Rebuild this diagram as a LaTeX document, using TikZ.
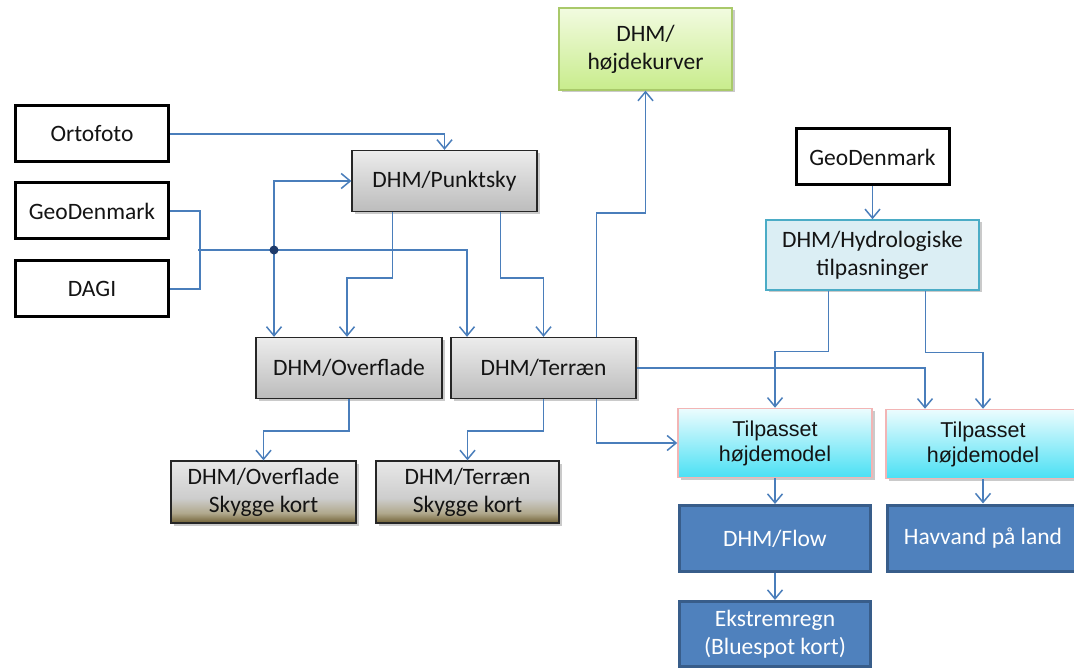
\documentclass[tikz,border=0pt]{standalone}
\usepackage{fontspec}
\setmainfont{Carlito}
\newfontfamily\arialfont{Liberation Sans}
\usetikzlibrary{arrows.meta,shadows,calc}

\definecolor{conncol}{HTML}{4A7EBB}
\definecolor{dotcol}{HTML}{1F3B6B}
\definecolor{bluefill}{HTML}{4F81BD}
\definecolor{blueedge}{HTML}{385D8A}
\definecolor{greenedge}{HTML}{A9C96A}
\definecolor{hydrofill}{HTML}{DBEEF4}
\definecolor{hydroedge}{HTML}{4BACC6}
\definecolor{pinkedge}{HTML}{F2B5B5}
\definecolor{grayedge}{HTML}{262626}
\definecolor{textcol}{HTML}{141414}

% light grey fading into an olive band at the bottom
\pgfdeclareverticalshading{skyggeshade}{100bp}{%
  color(0bp)=(rgb,255:red,112;green,96;blue,52);
  color(25bp)=(rgb,255:red,112;green,96;blue,52);
  color(33bp)=(rgb,255:red,176;green,168;blue,140);
  color(45bp)=(rgb,255:red,205;green,205;blue,205);
  color(75bp)=(rgb,255:red,232;green,232;blue,232);
  color(100bp)=(rgb,255:red,232;green,232;blue,232)}

\tikzset{
  base/.style={align=center, inner sep=0pt, text=textcol,
    font=\fontsize{23.5}{28}\selectfont},
  srcbox/.style={base, draw=black, line width=3pt, fill=white,
    minimum width=153pt, minimum height=56pt},
  shadowed/.style={drop shadow={shadow xshift=2.5pt, shadow yshift=-2.5pt, opacity=0.35, fill=black!60}},
  graybox/.style={base, draw=grayedge, line width=1.3pt, shadowed,
    top color={rgb,255:red,236;green,236;blue,236},
    bottom color={rgb,255:red,188;green,188;blue,188},
    minimum width=185pt, minimum height=61pt},
  skyggebox/.style={base, draw=grayedge, line width=1.3pt, shadowed,
    shading=skyggeshade, minimum width=185pt, minimum height=62pt},
  greenbox/.style={base, draw=greenedge, line width=1.3pt, shadowed,
    top color={rgb,255:red,242;green,251;blue,224},
    bottom color={rgb,255:red,200;green,236;blue,140},
    minimum width=173pt, minimum height=82pt},
  hydrobox/.style={base, draw=hydroedge, line width=1.5pt, fill=hydrofill, shadowed,
    minimum width=213pt, minimum height=70pt},
  tilpbox/.style={base, draw=pinkedge, line width=1.5pt, shadowed,
    font=\arialfont\fontsize{21.5}{25}\selectfont,
    top color={rgb,255:red,236;green,252;blue,254},
    bottom color={rgb,255:red,74;green,224;blue,244},
    minimum width=194pt, minimum height=69pt},
  bluebox/.style={base, draw=blueedge, line width=3pt, fill=bluefill, text=white,
    minimum width=191pt, minimum height=66pt},
  conn/.style={draw=conncol, line width=1.5pt},
  arr/.style={conn, -{Straight Barb[length=9pt,width=15pt,line width=1.5pt]}},
}

\begin{document}
\begin{tikzpicture}[x=1pt, y=-1pt]
\useasboundingbox (0,0) rectangle (1074,668);

% sources
\node[srcbox] (ortofoto) at (92,134) {Ortofoto};
\node[srcbox] (geoL) at (92,211) {GeoDenmark};
\node[srcbox] (dagi) at (92,289) {DAGI};
\node[srcbox] (geoR) at (872.5,157) {GeoDenmark};

% height models
\node[graybox] (punktsky) at (444.5,181) {DHM/Punktsky};
\node[graybox, minimum width=186pt] (overflade) at (349,368) {DHM/Overflade};
\node[graybox] (terraen) at (543.5,368) {DHM/Terræn};
\node[skyggebox] (skyggeO) at (263.5,492) {DHM/Overflade\\Skygge kort};
\node[skyggebox, minimum width=183pt] (skyggeT) at (467.5,492) {DHM/Terræn\\Skygge kort};
\node[greenbox] (hojde) at (645.5,49) {DHM/\\højdekurver};

% hydrology branch
\node[hydrobox] (hydro) at (872.5,255) {DHM/Hydrologiske\\tilpasninger};
\node[tilpbox] (tilp1) at (775,443) {Tilpasset\\højdemodel};
\node[tilpbox] (tilp2) at (983,444) {Tilpasset\\højdemodel};
\node[bluebox] (flow) at (775,538.5) {DHM/Flow};
\node[bluebox, minimum width=192pt] (havvand) at (983,538) {Havvand på land};
\node[bluebox, minimum height=65pt] (ekstrem) at (775,634) {Ekstremregn\\(Bluespot kort)};

% junction of GeoDenmark and DAGI
\coordinate (bus) at (198,250);
\coordinate (junc) at (274,250);

% connectors
\draw[arr] (ortofoto.east) -| (punktsky.north);
\draw[conn] (geoL.east) -- ++(30,0) |- (dagi.east);
\draw[arr] (bus) -- (junc) -| ([xshift=-76.5pt]terraen.north);
\draw[arr] (junc) |- (punktsky.west);
\draw[arr] (junc) -- (junc |- overflade.north);
\fill[dotcol] (junc) circle (4.5pt);

\draw[arr] ([xshift=-52pt]punktsky.south) -- ++(0,66) -| ([xshift=-2pt]overflade.north);
\draw[arr] ([xshift=56pt]punktsky.south) -- ++(0,66) -| (terraen.north);
\draw[arr] ([xshift=53pt]terraen.north) -- ++(0,-124) -| (hojde.south);

\draw[arr] (overflade.south) -- ++(0,32) -| (skyggeO.north);
\draw[arr] (terraen.south) -- ++(0,32) -| (skyggeT.north);
\draw[arr] ([xshift=53pt]terraen.south) |- (tilp1.west);
\draw[arr] (terraen.east) -| ([xshift=-58pt]tilp2.north);

\draw[arr] (geoR.south) -- (hydro.north);
\draw[arr] ([xshift=-44pt]hydro.south) -- ++(0,61) -| (tilp1.north);
\draw[arr] ([xshift=53pt]hydro.south) -- ++(0,62) -| (tilp2.north);

\draw[arr] (tilp1.south) -- (flow.north);
\draw[arr] (tilp2.south) -- (havvand.north);
\draw[arr] (flow.south) -- (ekstrem.north);
\end{tikzpicture}
\end{document}
